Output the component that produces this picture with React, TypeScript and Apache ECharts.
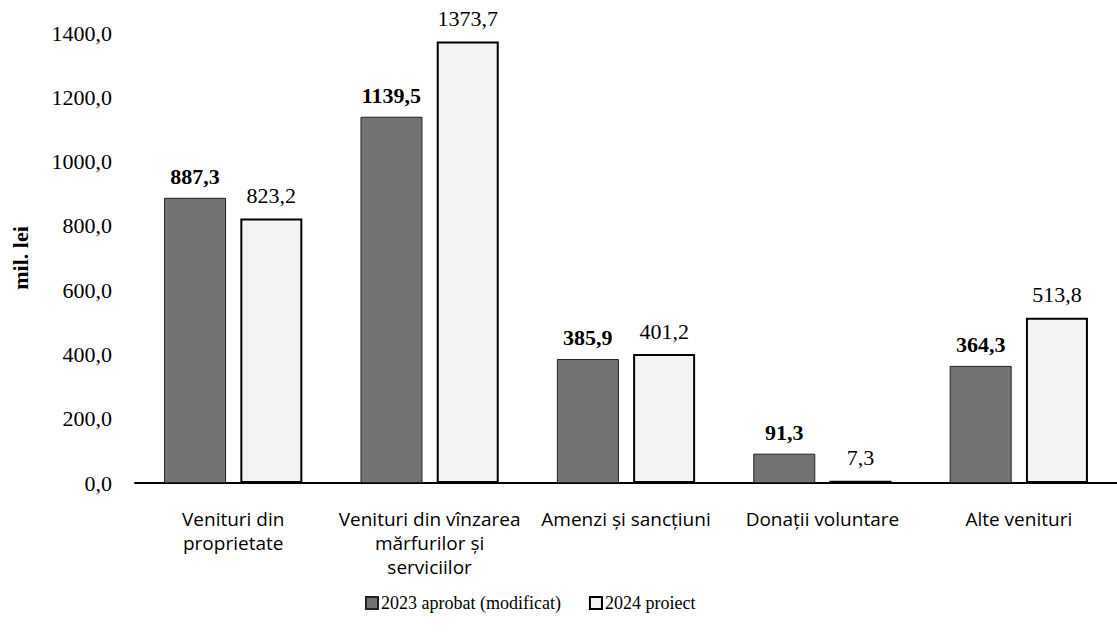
import React, { useEffect, useRef } from "react";
import * as echarts from "echarts";

const categories = [
  "Venituri din\nproprietate",
  "Venituri din vînzarea\nmărfurilor și\nserviciilor",
  "Amenzi și sancțiuni",
  "Donații voluntare",
  "Alte venituri",
];
const seriesNames = ["2023 aprobat (modificat)", "2024 proiect"];
const values2023 = [887.3, 1139.5, 385.9, 91.3, 364.3];
const values2024 = [823.2, 1373.7, 401.2, 7.3, 513.8];
const yTicks = { min: 0, max: 1400, interval: 200 };

const fmt = (v: number) => v.toFixed(1).replace(".", ",");

export default function App() {
  const ref = useRef<HTMLDivElement>(null);
  useEffect(() => {
    document.body.style.margin = "0";
    const chart = echarts.init(ref.current!, undefined, { renderer: "svg" });
    const serif = "'Liberation Serif', 'Times New Roman', serif";
    chart.setOption({
      animation: false,
      backgroundColor: "#ffffff",
      grid: { left: 135, right: -12, top: 33, bottom: 150, containLabel: false },
      legend: {
        bottom: 16,
        left: 360,
        itemWidth: 12,
        itemHeight: 12,
        itemGap: 28,
        icon: "rect",
        textStyle: { fontFamily: serif, fontSize: 18, color: "#000", padding: [0, 0, 0, -2] },
        data: seriesNames,
      },
      xAxis: {
        type: "category",
        data: categories,
        axisLine: { show: true, lineStyle: { color: "#000", width: 2 } },
        axisTick: { show: false },
        axisLabel: {
          interval: 0,
          margin: 24,
          fontFamily: "'Open Sans', 'Liberation Sans', sans-serif",
          fontSize: 19,
          lineHeight: 24,
          color: "#000",
        },
      },
      yAxis: {
        type: "value",
        min: yTicks.min,
        max: yTicks.max,
        interval: yTicks.interval,
        name: "mil. lei",
        nameLocation: "middle",
        nameGap: 104,
        nameTextStyle: { fontFamily: serif, fontSize: 22, fontWeight: "bold", color: "#000" },
        axisLine: { show: false },
        axisTick: { show: false },
        splitLine: { show: false },
        axisLabel: {
          margin: 23,
          fontFamily: serif,
          fontSize: 22,
          color: "#000",
          formatter: (v: number) => fmt(v),
        },
      },
      series: [
        {
          name: seriesNames[0],
          type: "bar",
          data: values2023,
          barWidth: 62,
          barGap: "23%",
          itemStyle: { color: "#737373", borderColor: "#222", borderWidth: 1 },
          label: {
            show: true,
            position: "top",
            distance: 10,
            fontFamily: serif,
            fontSize: 22,
            fontWeight: "bold",
            color: "#000",
            formatter: (p: any) => fmt(p.value),
          },
        },
        {
          name: seriesNames[1],
          type: "bar",
          data: values2024,
          barWidth: 62,
          itemStyle: { color: "#f3f3f3", borderColor: "#000", borderWidth: 2 },
          label: {
            show: true,
            position: "top",
            distance: 12,
            fontFamily: serif,
            fontSize: 22,
            color: "#000",
            formatter: (p: any) => fmt(p.value),
          },
        },
      ],
    });
    return () => chart.dispose();
  }, []);
  return <div ref={ref} style={{ width: 1117, height: 633 }} />;
}
